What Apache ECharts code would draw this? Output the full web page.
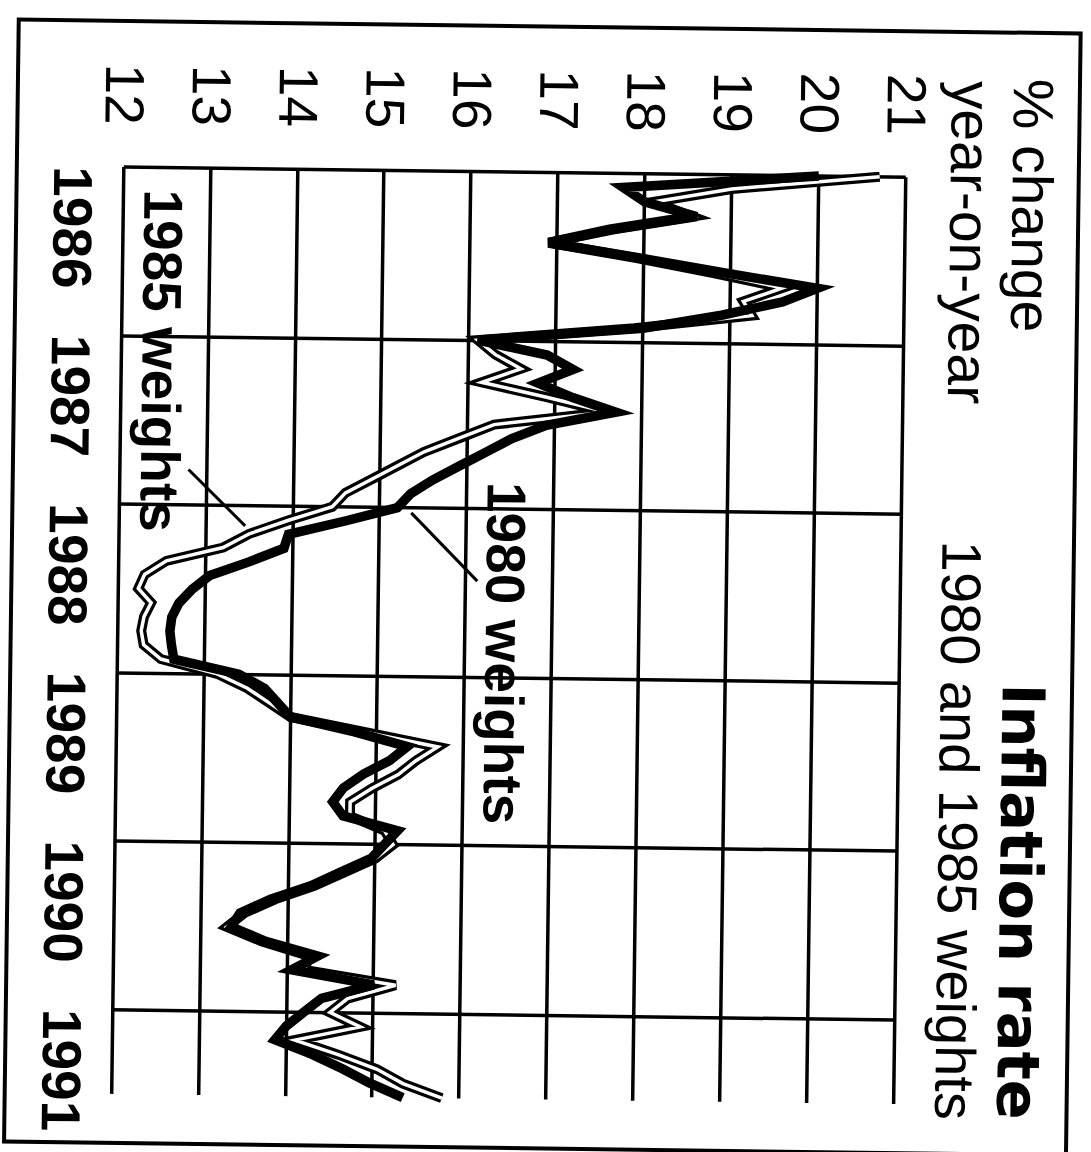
<!DOCTYPE html>
<html>
<head>
<meta charset="utf-8">
<title>Inflation rate</title>
<script src="https://cdn.jsdelivr.net/npm/echarts@6.0.0/dist/echarts.min.js"></script>
<style>
  html, body { margin: 0; padding: 0; background: #fff; overflow: hidden; }
  body { width: 1091px; height: 1152px; position: relative; }
  /* chart is drawn upright and turned a quarter turn, like the scanned page */
  #chart {
    position: absolute;
    width: 1152px;
    height: 1091px;
    left: -30.5px;
    top: 30.5px;
    transform-origin: 50% 50%;
    transform: rotate(90.75deg);
  }
</style>
</head>
<body>
<div id="chart"></div>
<script>
// tick labels
const years = ["1986", "1987", "1988", "1989", "1990", "1991"];
const valueMin = 12;
const valueMax = 21;

// monthly % change year-on-year, Jan 1986 .. Jul 1991
const weights1980 = [
  20.0, 17.75, 18.0, 18.6, 17.65, 16.9, 17.95, 18.95, 20.0, 19.6, 18.9, 18.0,
  16.1, 16.9, 17.2, 16.8, 17.2, 17.7, 16.9, 16.5, 16.2, 15.9, 15.6, 15.35,
  15.2, 14.6, 13.95, 13.9, 13.5, 13.05, 12.85, 12.7, 12.62, 12.6, 12.62, 12.65,
  13.4, 13.7, 13.85, 14.0, 14.74, 15.35, 15.15, 14.85, 14.62, 14.5, 14.62, 15.25,
  15.1, 14.95, 14.6, 14.26, 13.8, 13.45, 13.35, 13.75, 14.35, 14.05, 15.0, 14.4,
  14.2, 14.0, 13.87, 14.3, 14.65, 14.97, 15.35
];
const weights1985 = [
  20.7, 19.0, 18.1, 18.55, 17.6, 16.9, 17.9, 18.8, 19.6, 19.15, 19.25, 17.9,
  16.1, 16.3, 16.6, 16.15, 16.9, 17.6, 16.3, 15.9, 15.5, 15.2, 14.9, 14.6,
  14.45, 13.95, 13.5, 13.2, 12.55, 12.3, 12.23, 12.38, 12.3, 12.27, 12.3, 12.5,
  13.15, 13.5, 13.75, 14.0, 14.85, 15.7, 15.45, 15.25, 14.95, 14.7, 14.7, 15.1,
  15.2, 15.0, 14.65, 14.3, 13.85, 13.5, 13.3, 13.7, 14.25, 14.2, 15.25, 14.7,
  14.5, 14.85, 14.1, 14.6, 15.05, 15.35, 15.8
];

// pointer lines from the labels to the curves [year, value]
const leader1985 = [[1987.79, 12.79], [1988.12, 13.45]];
const leader1980 = [[1988.03, 15.36], [1988.43, 16.13]];

function monthly(values) {
  return values.map((v, i) => [1986 + i / 12, v]);
}

const chart = echarts.init(document.getElementById("chart"), null, { renderer: "svg" });

const black = "#000";

chart.setOption({
  animation: false,
  backgroundColor: "#fff",
  grid: { left: 172, right: 53, top: 191, bottom: 118 },
  xAxis: {
    type: "value",
    min: 1986,
    max: 1991.5,
    interval: 1,
    axisLine: { show: false },
    axisTick: { show: false },
    splitLine: { show: true, showMaxLine: false, lineStyle: { color: black, width: 3.5 } },
    axisLabel: {
      showMaxLabel: false,
      align: "left",
      margin: 23,
      color: black,
      fontFamily: "Liberation Sans",
      fontWeight: "bold",
      fontSize: 55,
      formatter: (v) => (Number.isInteger(v) ? years[v - 1986] || "" : ""),
    },
  },
  yAxis: {
    type: "value",
    min: valueMin,
    max: valueMax,
    interval: 1,
    axisLine: { show: false },
    axisTick: { show: false },
    splitLine: { show: true, lineStyle: { color: black, width: 3.5 } },
    axisLabel: {
      margin: 42,
      color: black,
      fontFamily: "Liberation Sans",
      fontSize: 55,
    },
  },
  graphic: [
    {
      type: "rect",
      shape: { x: 26, y: 18, width: 1122, height: 1062 },
      style: { fill: "none", stroke: black, lineWidth: 4 },
    },
    {
      type: "text", x: 1113, y: 67,
      style: { text: "Inflation rate", align: "right", verticalAlign: "middle",
        font: 'bold 59px "DejaVu Sans"', fill: black },
    },
    {
      type: "text", x: 1114, y: 130,
      style: { text: "1980 and 1985 weights", align: "right", verticalAlign: "middle",
        font: '56px "Liberation Sans"', fill: black },
    },
    {
      type: "text", x: 72, y: 64,
      style: { text: "% change", align: "left", verticalAlign: "middle",
        font: '57px "Liberation Sans"', fill: black },
    },
    {
      type: "text", x: 75, y: 126,
      style: { text: "year-on-year", align: "left", verticalAlign: "middle",
        font: '57px "Liberation Sans"', fill: black },
    },
    {
      type: "text", x: 194, y: 933,
      style: { text: "1985 weights", align: "left", verticalAlign: "middle",
        font: 'bold 55px "Liberation Sans"', fill: black },
    },
    {
      type: "text", x: 482, y: 586,
      style: { text: "1980 weights", align: "left", verticalAlign: "middle",
        font: 'bold 55px "Liberation Sans"', fill: black },
    },
  ],
  series: [
    {
      name: "1985 weights",
      type: "line",
      data: monthly(weights1985),
      symbol: "none",
      z: 2,
      lineStyle: { color: black, width: 10, join: "miter" },
    },
    {
      name: "1985 weights core",
      type: "line",
      data: monthly(weights1985),
      symbol: "none",
      z: 3,
      lineStyle: { color: "#fff", width: 3.5, join: "miter" },
    },
    {
      name: "1980 weights",
      type: "line",
      data: monthly(weights1980),
      symbol: "none",
      z: 4,
      lineStyle: { color: black, width: 9.5, join: "miter" },
    },
    {
      name: "leader 1985",
      type: "line",
      data: leader1985,
      symbol: "none",
      z: 5,
      lineStyle: { color: black, width: 3 },
    },
    {
      name: "leader 1980",
      type: "line",
      data: leader1980,
      symbol: "none",
      z: 5,
      lineStyle: { color: black, width: 3 },
    },
  ],
});
</script>
</body>
</html>
